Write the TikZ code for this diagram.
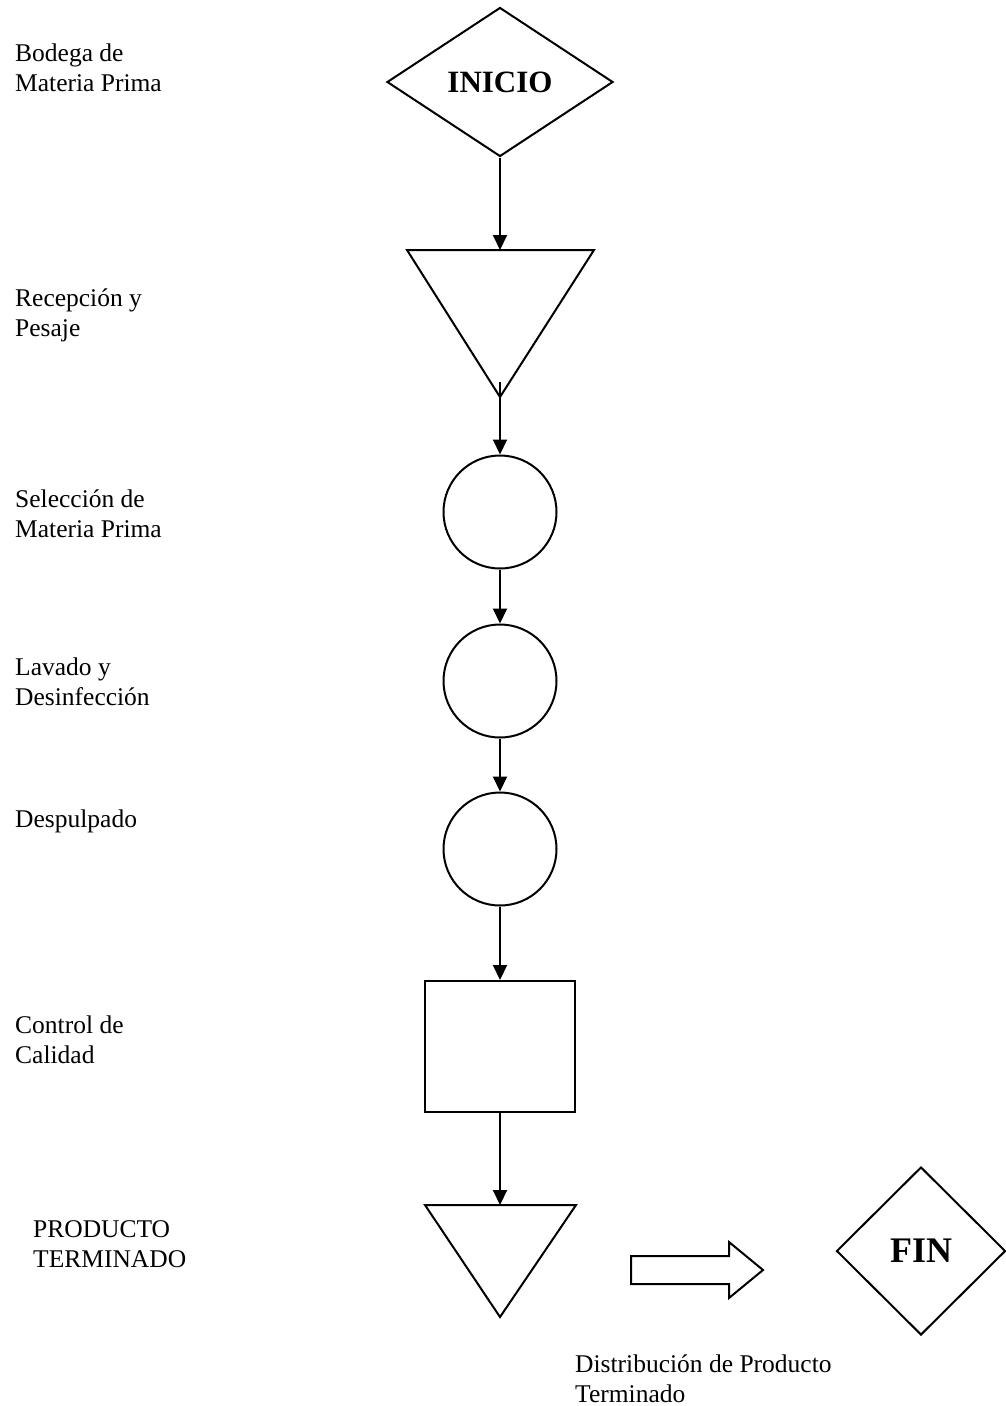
\documentclass[tikz,border=0pt]{standalone}
\usepackage{fontspec}
\setmainfont{Liberation Serif}
\usetikzlibrary{arrows.meta,calc,shapes.geometric}

\tikzset{
  shapeline/.style={draw=black,line width=2pt,line join=miter},
  flow/.style={-{Triangle[length=15pt,width=14pt]},line width=2pt},
  lbl/.style={anchor=base west,align=left,inner sep=0pt,
    font=\fontsize{25.5}{30}\selectfont},
  opcirc/.style={shapeline,circle,minimum size=113pt,inner sep=0pt},
}

\begin{document}
\begin{tikzpicture}[x=1pt,y=-1pt]
  \useasboundingbox (0,0) rectangle (1006,1406);

  % left column labels (anchored on the last line)
  \node[lbl] (bodega) at (15,91) {Bodega de\\Materia Prima};
  \node[lbl] (recep) at (15,336) {Recepción y\\Pesaje};
  \node[lbl] (selec) at (15,537) {Selección de\\Materia Prima};
  \node[lbl] (lavado) at (15,705) {Lavado y\\Desinfección};
  \node[lbl] (despul) at (15,827) {Despulpado};
  \node[lbl] (control) at (15,1063) {Control de\\Calidad};
  \node[lbl] (prodterm) at (33,1267) {PRODUCTO\\TERMINADO};
  \node[lbl] (distrib) at (575,1402) {Distribución de Producto\\Terminado};

  % inicio
  \node[shapeline,diamond,minimum width=226pt,minimum height=149pt,inner sep=0pt,
    font=\fontsize{31}{31}\selectfont\bfseries] (inicio) at (500,82) {INICIO};

  % recepcion (almacenamiento)
  \draw[shapeline] (407,250) -- (594,250) -- (500,397) -- cycle;
  \coordinate (tri1top) at (500,250);
  \coordinate (tri1tip) at (500,382);

  % operaciones
  \node[opcirc] (seleccion) at (500,512) {};
  \node[opcirc] (lavdes) at (500,681) {};
  \node[opcirc] (despulpado) at (500,849) {};

  % inspeccion
  \node[shapeline,rectangle,minimum width=150pt,minimum height=131pt,inner sep=0pt]
    (calidad) at (500,1046.5) {};

  % producto terminado
  \draw[shapeline] (425,1205) -- (576,1205) -- (500,1317) -- cycle;
  \coordinate (tri2top) at (500,1205);

  % distribucion
  \draw[shapeline] (631,1256) -- (729,1256) -- (729,1242) -- (763,1270)
    -- (729,1298) -- (729,1284) -- (631,1284) -- cycle;

  % fin
  \node[shapeline,diamond,minimum width=169pt,minimum height=168pt,inner sep=0pt,
    font=\fontsize{36}{36}\selectfont\bfseries] (fin) at (921,1251) {FIN};

  % flujo
  \draw[flow] (inicio.south) -- (tri1top);
  \draw[flow] (tri1tip) -- (seleccion.north);
  \draw[flow] (seleccion.south) -- (lavdes.north);
  \draw[flow] (lavdes.south) -- (despulpado.north);
  \draw[flow] (despulpado.south) -- (calidad.north);
  \draw[flow] (calidad.south) -- (tri2top);
\end{tikzpicture}
\end{document}
